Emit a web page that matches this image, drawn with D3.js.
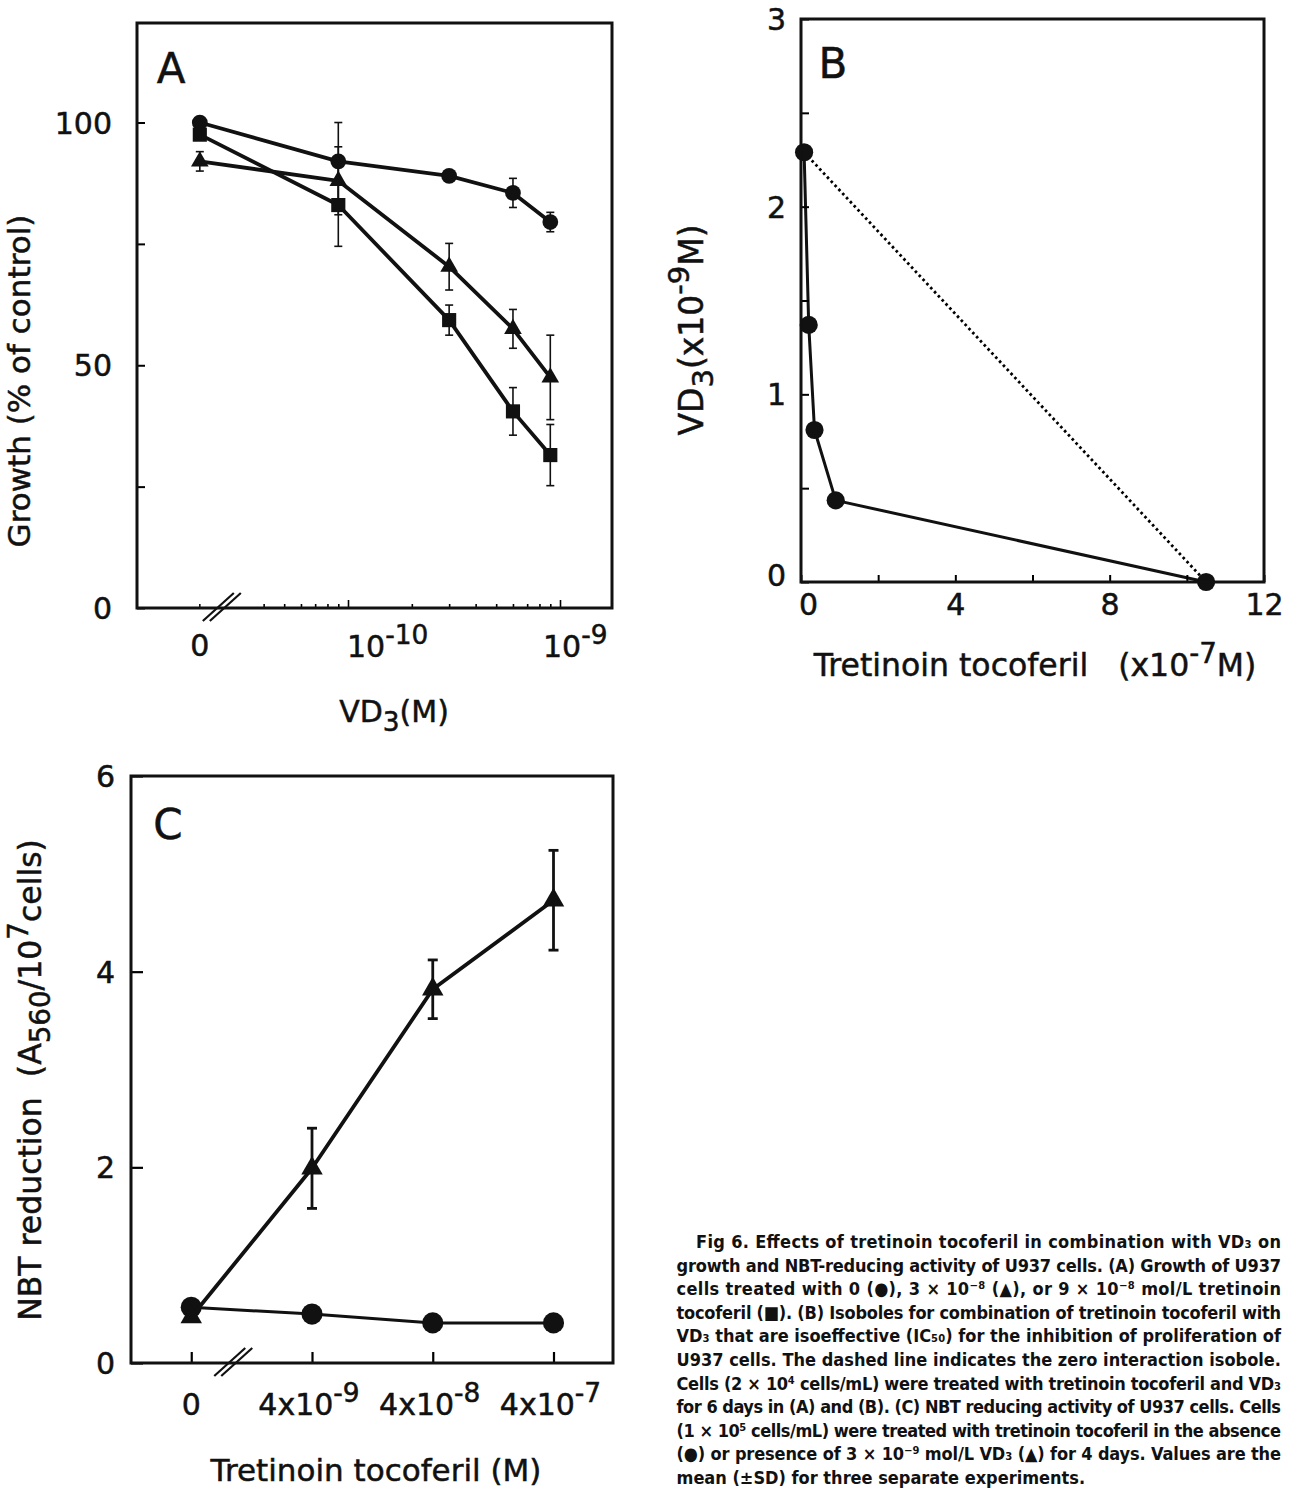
<!DOCTYPE html>
<html>
<head>
<meta charset="utf-8">
<script src="https://cdn.jsdelivr.net/npm/d3@7"></script>
<style>
  body { margin: 0; background: #fff; }
  svg { display: block; }
  text { font-family: "DejaVu Sans", sans-serif; fill: #111; stroke: #111; stroke-width: 0.5px; }
  .caption text { font-family: "Liberation Sans Narrow", "DejaVu Sans Condensed", sans-serif; font-weight: bold; font-size: 18px; stroke: none; }
</style>
</head>
<body>
<div id="wrapper"></div>
<script>

//..................................................
// 1. data

// panel A - growth (% of control) vs VD3 (M), three tretinoin tocoferil doses
const vd3Conc = [0, 9e-11, 3e-10, 6e-10, 9e-10]
const growthNone = [100, 92, 89, 85.5, 79.5]
const growthNoneSd = [0, 8, 0, 3, 2]
const growthLow = [92, 88, 70.3, 57.5, 47.5]
const growthLowSd = [2, 7, 4.8, 4, 8.7]
const growthHigh = [97.5, 83, 59.3, 40.5, 31.5]
const growthHighSd = [0, 8.5, 3.1, 4.9, 6.3]
const growthTicks = [0, 50, 100]
const growthMinorTicks = [25, 75]
const vd3Labels = [1e-10, 1e-9]
const vd3ZeroAt = 2e-11   // where "0" sits on the broken log axis

// panel B - isobole, tretinoin tocoferil (x10^-7 M) vs VD3 (x10^-9 M)
const isoTretinoin = [0.08, 0.2, 0.35, 0.9, 10.5]
const isoVd3 = [2.29, 1.37, 0.81, 0.435, 0]
const isoXTicks = [0, 4, 8, 12]
const isoYTicks = [0, 1, 2, 3]

// panel C - NBT reduction vs tretinoin tocoferil (M)
const tretConc = [0, 4e-9, 4e-8, 4e-7]
const nbtAlone = [0.57, 0.5, 0.41, 0.41]
const nbtWithVd3 = [0.47, 1.99, 3.82, 4.73]
const nbtWithVd3Sd = [0, 0.41, 0.3, 0.51]
const nbtTicks = [0, 2, 4, 6]
const tretZeroAt = 4e-10

const captionLines = [
  "Fig 6.  Effects of tretinoin tocoferil in combination with VD\u2083 on",
  "growth and NBT-reducing activity of U937 cells. (A) Growth of U937",
  "cells treated with 0 (\u25CF), 3 \u00D7 10\u207B\u2078 (\u25B2), or 9 \u00D7 10\u207B\u2078 mol/L tretinoin",
  "tocoferil (\u25A0). (B) Isoboles for combination of tretinoin tocoferil with",
  "VD\u2083 that are isoeffective (IC\u2085\u2080) for the inhibition of proliferation of",
  "U937 cells. The dashed line indicates the zero interaction isobole.",
  "Cells (2 \u00D7 10\u2074 cells/mL) were treated with tretinoin tocoferil and VD\u2083",
  "for 6 days in (A) and (B). (C) NBT reducing activity of U937 cells. Cells",
  "(1 \u00D7 10\u2075 cells/mL) were treated with tretinoin tocoferil in the absence",
  "(\u25CF) or presence of 3 \u00D7 10\u207B\u2079 mol/L VD\u2083 (\u25B2) for 4 days. Values are the",
  "mean (\u00B1SD) for three separate experiments.",
]

//..................................................
// 2. canvas + helpers

const wrapper = d3.select("#wrapper")
  .append("svg")
    .attr("width", 1291)
    .attr("height", 1489)

// text with super/subscript pieces: parts = [[string, "sup"|"sub"|null], ...]
function richText(parent, parts, fontSize, attrs) {
  const text = parent.append("text")
      .attr("font-size", fontSize)
      .style("white-space", "pre")
  Object.entries(attrs).forEach(([k, v]) => text.attr(k, v))
  let shift = 0
  parts.forEach(([str, kind]) => {
    const target = kind === "sup" ? -0.42 * fontSize : kind === "sub" ? 0.3 * fontSize : 0
    text.append("tspan")
        .attr("dy", target - shift)
        .attr("font-size", kind ? fontSize * 0.88 : fontSize)
        .text(str)
    shift = target
  })
  return text
}

function drawFrame(bounds, dims) {
  bounds.append("rect")
      .attr("width", dims.width)
      .attr("height", dims.height)
      .attr("fill", "none")
      .attr("stroke", "#111")
      .attr("stroke-width", 3)
}

function errorBars(bounds, xs, ys, sds, x, y, cap, width) {
  const rows = xs.map((v, i) => ({ x: v, y: ys[i], sd: sds[i] })).filter(d => d.sd > 0)
  const g = bounds.append("g").attr("stroke", "#111").attr("stroke-width", width)
  g.selectAll(".bar").data(rows).join("line")
      .attr("x1", d => x(d.x)).attr("x2", d => x(d.x))
      .attr("y1", d => y(d.y - d.sd)).attr("y2", d => y(d.y + d.sd))
  g.selectAll(".capTop").data(rows).join("line")
      .attr("x1", d => x(d.x) - cap).attr("x2", d => x(d.x) + cap)
      .attr("y1", d => y(d.y + d.sd)).attr("y2", d => y(d.y + d.sd))
  g.selectAll(".capBottom").data(rows).join("line")
      .attr("x1", d => x(d.x) - cap).attr("x2", d => x(d.x) + cap)
      .attr("y1", d => y(d.y - d.sd)).attr("y2", d => y(d.y - d.sd))
}

function series(bounds, xs, ys, x, y, symbol, size, lineWidth) {
  const pts = xs.map((v, i) => [v, ys[i]])
  bounds.append("path")
      .attr("d", d3.line().x(d => x(d[0])).y(d => y(d[1]))(pts))
      .attr("fill", "none")
      .attr("stroke", "#111")
      .attr("stroke-width", lineWidth)
      .attr("stroke-linejoin", "round")
  bounds.selectAll(null).data(pts).join("path")
      .attr("transform", d => `translate(${x(d[0])},${y(d[1])})`)
      .attr("d", d3.symbol(symbol, size))
      .attr("fill", "#111")
}

function breakMarks(bounds, x0, y0) {
  [0, 7].forEach(off => {
    bounds.append("line")
        .attr("x1", x0 + 3 + off).attr("y1", y0 + 13)
        .attr("x2", x0 + 34 + off).attr("y2", y0 - 15)
        .attr("stroke", "#111").attr("stroke-width", 2.2)
  })
}

const isDecade = d => Math.abs(Math.log10(d) - Math.round(Math.log10(d))) < 1e-6

//..................................................
// 3. panel A

const dimsA = { left: 137, top: 23, width: 475, height: 585 }
const boundsA = wrapper.append("g")
    .attr("transform", `translate(${dimsA.left},${dimsA.top})`)

const yScaleA = d3.scaleLinear().domain([0, 120.5]).range([dimsA.height, 0])
const xScaleA = d3.scaleLog().domain([1e-10, 1e-9]).range([211, 423])
const xA = v => xScaleA(v === 0 ? vd3ZeroAt : v)

errorBars(boundsA, vd3Conc, growthNone, growthNoneSd, xA, yScaleA, 4, 1.6)
errorBars(boundsA, vd3Conc, growthLow, growthLowSd, xA, yScaleA, 4, 1.6)
errorBars(boundsA, vd3Conc, growthHigh, growthHighSd, xA, yScaleA, 4, 1.6)
series(boundsA, vd3Conc, growthNone, xA, yScaleA, d3.symbolCircle, 195, 3.8)
series(boundsA, vd3Conc, growthLow, xA, yScaleA, d3.symbolTriangle, 135, 3.8)
series(boundsA, vd3Conc, growthHigh, xA, yScaleA, d3.symbolSquare, 200, 3.8)

boundsA.append("g")
    .call(d3.axisLeft(yScaleA)
      .tickValues([...growthTicks, ...growthMinorTicks])
      .tickSize(-8)
      .tickPadding(25)
      .tickFormat(d => growthTicks.includes(d) ? d : ""))
    .attr("font-size", 30)
    .call(g => g.select(".domain").remove())
    .call(g => g.selectAll(".tick line").attr("stroke-width", 2))
    .call(g => g.selectAll(".tick text").attr("dy", "0.35em"))

const vd3TickValues = d3.scaleLog().domain([4e-11, 1e-9]).ticks()
boundsA.append("g")
    .attr("transform", `translate(0,${dimsA.height})`)
    .call(d3.axisBottom(xScaleA).tickValues(vd3TickValues).tickSize(-4).tickFormat(""))
    .call(g => g.select(".domain").remove())
    .call(g => g.selectAll(".tick line").attr("stroke-width", 1.6))
    .call(g => g.selectAll(".tick line").filter(isDecade).attr("y2", -8))

boundsA.append("line")
    .attr("x1", xA(0)).attr("x2", xA(0))
    .attr("y1", dimsA.height).attr("y2", dimsA.height - 4)
    .attr("stroke", "#111").attr("stroke-width", 1.6)

breakMarks(boundsA, xA(0), dimsA.height)
drawFrame(boundsA, dimsA)

boundsA.append("text")
    .attr("x", xA(0)).attr("y", dimsA.height + 48)
    .attr("text-anchor", "middle").attr("font-size", 30)
    .text("0")
vd3Labels.forEach(v => {
  richText(boundsA, [["10", null], ["-" + Math.round(-Math.log10(v)), "sup"]], 30, {
    x: xScaleA(v) - (v === 1e-9 ? 17 : 1), y: dimsA.height + 49,
  })
})

richText(boundsA, [["VD", null], ["3", "sub"], ["(M)", null]], 30, {
  x: 394 - dimsA.left, y: 722 - dimsA.top, "text-anchor": "middle",
})
richText(boundsA, [["Growth (% of control)", null]], 31, {
  transform: `translate(${30 - dimsA.left},${381 - dimsA.top}) rotate(-90)`,
  "text-anchor": "middle", dy: "0.35em",
})
boundsA.append("text")
    .attr("x", 34).attr("y", 60)
    .attr("font-size", 42).attr("text-anchor", "middle")
    .text("A")

//..................................................
// 4. panel B

const dimsB = { left: 801, top: 19, width: 463, height: 563 }
const boundsB = wrapper.append("g")
    .attr("transform", `translate(${dimsB.left},${dimsB.top})`)

const xScaleB = d3.scaleLinear().domain([0, 12]).range([0, dimsB.width])
const yScaleB = d3.scaleLinear().domain([0, 3]).range([dimsB.height, 0])

// zero interaction isobole: straight line joining the two single-drug IC50s
const ends = [0, isoTretinoin.length - 1]
boundsB.append("path")
    .attr("d", d3.line()
      .x(i => xScaleB(isoTretinoin[i]))
      .y(i => yScaleB(isoVd3[i]))(ends))
    .attr("fill", "none")
    .attr("stroke", "#000")
    .attr("stroke-width", 2.8)
    .attr("stroke-dasharray", "2.6,3")

series(boundsB, isoTretinoin, isoVd3, xScaleB, yScaleB, d3.symbolCircle, 260, 3)

boundsB.append("g")
    .call(d3.axisLeft(yScaleB)
      .tickValues(yScaleB.ticks(6))
      .tickSize(-8)
      .tickPadding(15)
      .tickFormat(d => isoYTicks.includes(d) ? d : ""))
    .attr("font-size", 30)
    .call(g => g.select(".domain").remove())
    .call(g => g.selectAll(".tick line").attr("stroke-width", 2))
    .call(g => g.selectAll(".tick text").attr("dy", d => d === 0 ? "0.1em" : "0.35em"))

boundsB.append("g")
    .attr("transform", `translate(0,${dimsB.height})`)
    .call(d3.axisBottom(xScaleB)
      .tickValues(xScaleB.ticks(6))
      .tickSize(-7)
      .tickPadding(12)
      .tickFormat(d => isoXTicks.includes(d) ? d : ""))
    .attr("font-size", 30)
    .call(g => g.select(".domain").remove())
    .call(g => g.selectAll(".tick line").attr("stroke-width", 2))
    .call(g => g.selectAll(".tick text").attr("dx", d => d === 0 ? 7 : 0))

drawFrame(boundsB, dimsB)

boundsB.append("text")
    .attr("x", 32).attr("y", 59)
    .attr("font-size", 42).attr("text-anchor", "middle")
    .text("B")

richText(boundsB, [["Tretinoin tocoferil   (x10", null], ["-7", "sup"], ["M)", null]], 31.5, {
  x: 1035 - dimsB.left, y: 676 - dimsB.top, "text-anchor": "middle",
})
richText(boundsB, [["VD", null], ["3", "sub"], ["(x10", null], ["-9", "sup"], ["M)", null]], 33, {
  transform: `translate(${703 - dimsB.left},${330 - dimsB.top}) rotate(-90)`,
  "text-anchor": "middle", dy: "0.35em",
})

//..................................................
// 5. panel C

const dimsC = { left: 131, top: 776, width: 482, height: 587 }
const boundsC = wrapper.append("g")
    .attr("transform", `translate(${dimsC.left},${dimsC.top})`)

const xScaleC = d3.scaleLog().domain([4e-9, 4e-7]).range([181, 422.5])
const xC = v => xScaleC(v === 0 ? tretZeroAt : v)
const yScaleC = d3.scaleLinear().domain([0, 6]).range([dimsC.height, 0])

errorBars(boundsC, tretConc, nbtWithVd3, nbtWithVd3Sd, xC, yScaleC, 5, 2.8)
series(boundsC, tretConc, nbtAlone, xC, yScaleC, d3.symbolCircle, 350, 3)
series(boundsC, tretConc, nbtWithVd3, xC, yScaleC, d3.symbolTriangle, 200, 3.8)

boundsC.append("g")
    .call(d3.axisLeft(yScaleC)
      .tickValues(nbtTicks)
      .tickSize(-12)
      .tickPadding(16)
      .tickFormat(d => d))
    .attr("font-size", 30)
    .call(g => g.select(".domain").remove())
    .call(g => g.selectAll(".tick line").attr("stroke-width", 2.2))
    .call(g => g.selectAll(".tick text").attr("dy", "0.35em"))

boundsC.append("g")
    .attr("transform", `translate(0,${dimsC.height})`)
    .call(d3.axisBottom(d3.scaleLinear().range([0, dimsC.width]))
      .tickValues(tretConc.map(v => xC(v) / dimsC.width))
      .tickSize(-11)
      .tickFormat(""))
    .call(g => g.select(".domain").remove())
    .call(g => g.selectAll(".tick line").attr("stroke-width", 2.2))

breakMarks(boundsC, xC(0) + 20, dimsC.height)
drawFrame(boundsC, dimsC)

tretConc.forEach(v => {
  const parts = v === 0
    ? [["0", null]]
    : [["4x10", null], ["-" + Math.round(-Math.log10(v / 4)), "sup"]]
  richText(boundsC, parts, 30, {
    x: xC(v) - (v === 0 ? 0 : 3), y: 1415 - dimsC.top, "text-anchor": "middle",
  })
})

boundsC.append("text")
    .attr("x", 37).attr("y", 63)
    .attr("font-size", 42).attr("text-anchor", "middle")
    .text("C")

richText(boundsC, [["Tretinoin tocoferil (M)", null]], 31, {
  x: 376 - dimsC.left, y: 1481 - dimsC.top, "text-anchor": "middle",
})
richText(boundsC, [["NBT reduction  (A", null], ["560", "sub"], ["/10", null], ["7", "sup"], ["cells)", null]], 31.5, {
  transform: `translate(${41 - dimsC.left},${1080 - dimsC.top}) rotate(-90)`,
  "text-anchor": "middle", dy: "0.35em",
})

//..................................................
// 6. caption

const caption = wrapper.append("g").attr("class", "caption")
caption.selectAll("text")
  .data(captionLines)
  .join("text")
    .attr("x", (d, i) => i === 0 ? 696 : 676.5)
    .attr("y", (d, i) => 1248 + i * 23.6)
    .attr("textLength", (d, i) => i === captionLines.length - 1 ? null : (i === 0 ? 585 : 604.5))
    .attr("lengthAdjust", "spacing")
    .text(d => d)

</script>
</body>
</html>
